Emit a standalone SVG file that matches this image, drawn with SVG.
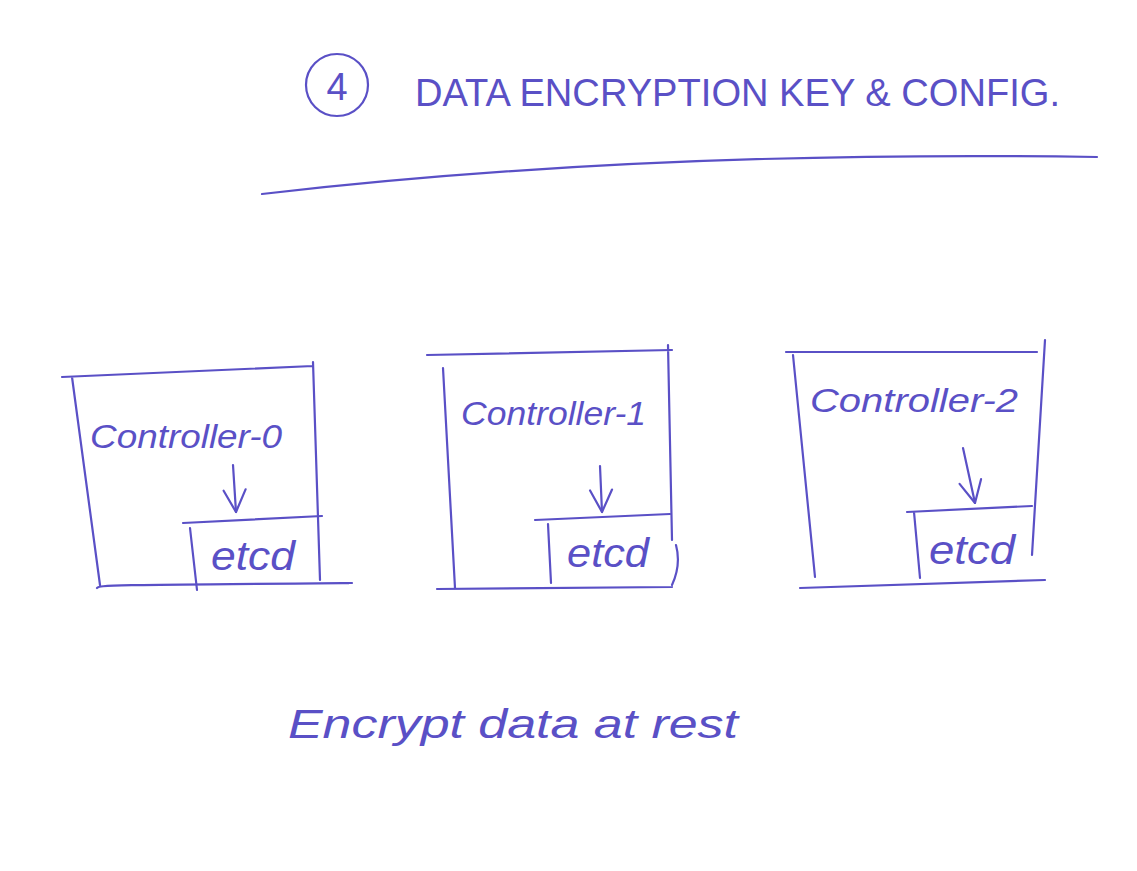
<svg xmlns="http://www.w3.org/2000/svg" width="1137" height="871" viewBox="0 0 1137 871">
<style>
.ink{fill:none;stroke:#5a50c6;stroke-width:2.2;stroke-linecap:round;stroke-linejoin:round}
.t{fill:#5a50c6;font-family:"Liberation Sans",Arial,sans-serif}
.lbl{font-size:34px;font-style:italic}
.et{font-size:40px;font-style:italic}
</style>
<defs>
<marker id="ah" viewBox="0 0 28 26" refX="26" refY="13" markerWidth="28" markerHeight="26" markerUnits="userSpaceOnUse" orient="auto">
<path d="M4,2 L26,13 L4,24" fill="none" stroke="#5a50c6" stroke-width="2.2" stroke-linecap="round" stroke-linejoin="round"/>
</marker>
</defs>
<rect width="1137" height="871" fill="#ffffff"/>
<g id="title">
<ellipse class="ink" cx="337" cy="85" rx="31" ry="31"/>
<text class="t" x="337" y="100" font-size="38" text-anchor="middle">4</text>
<text class="t" x="415" y="106" font-size="38" textLength="645" lengthAdjust="spacingAndGlyphs">DATA ENCRYPTION KEY &amp; CONFIG.</text>
<path class="ink" d="M262,194 Q640,150 1097,157"/>
</g>
<g id="controller-0">
<path class="ink" d="M62,377 L313,366 M72,377 L100,585 M313,362 L320,580 M97,588 C100,585 105,585 352,583"/>
<text class="t lbl" x="90" y="448" textLength="192" lengthAdjust="spacingAndGlyphs">Controller-0</text>
</g>
<g id="etcd-0">
<path class="ink" d="M183,523 L322,516 M190,528 L197,590"/>
<text class="t et" x="211" y="570" textLength="84" lengthAdjust="spacingAndGlyphs">etcd</text>
</g>
<g id="controller-1">
<path class="ink" d="M427,355 L672,350 M443,368 L455,588 M668,345 L672,540 M676,545 C680,560 678,572 672,585 M437,589 L672,587"/>
<text class="t lbl" x="461" y="425" textLength="185" lengthAdjust="spacingAndGlyphs">Controller-1</text>
</g>
<g id="etcd-1">
<path class="ink" d="M535,520 L670,514 M548,524 L551,583"/>
<text class="t et" x="567" y="567" textLength="82" lengthAdjust="spacingAndGlyphs">etcd</text>
</g>
<g id="controller-2">
<path class="ink" d="M786,352 L1037,352 M793,355 L815,577 M1045,340 L1032,555 M800,588 L1045,580"/>
<text class="t lbl" x="810" y="412" textLength="208" lengthAdjust="spacingAndGlyphs">Controller-2</text>
</g>
<g id="etcd-2">
<path class="ink" d="M907,512 L1032,506 M914,512 L920,578"/>
<text class="t et" x="929" y="564" textLength="86" lengthAdjust="spacingAndGlyphs">etcd</text>
</g>
<g id="connectors">
<path class="ink" d="M233,465 L236,512" marker-end="url(#ah)"/>
<path class="ink" d="M600,466 L602,512" marker-end="url(#ah)"/>
<path class="ink" d="M963,448 L975,503" marker-end="url(#ah)"/>
</g>
<g id="caption">
<text class="t" x="288" y="738" font-size="40" font-style="italic" textLength="450" lengthAdjust="spacingAndGlyphs">Encrypt data at rest</text>
</g>
</svg>
